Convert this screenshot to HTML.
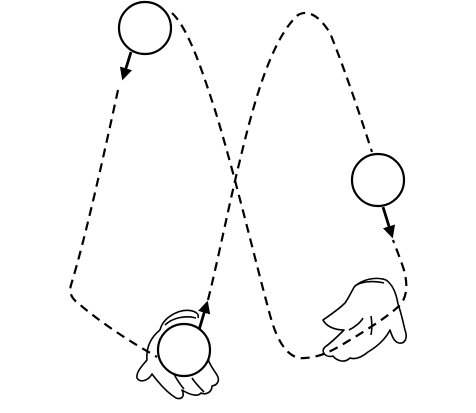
<!DOCTYPE html>
<html><head><meta charset="utf-8"><style>
html,body{margin:0;padding:0;background:#fff;width:476px;height:413px;overflow:hidden}
svg{display:block}
</style></head><body>
<svg width="476" height="413" viewBox="0 0 476 413">
<defs>
<marker id="ah" viewBox="0 0 10 10" refX="8" refY="5" markerWidth="4.5" markerHeight="4.5" orient="auto">
<path d="M0,0 L10,5 L0,10 z" fill="#000"/></marker>
</defs>
<g fill="none" stroke="#000" stroke-width="2.2" stroke-dasharray="9,6">
<path d="M172,13 C190,30 205,80 215,110 C235,175 255,260 270,315 C278,345 290,360 305,358 C320,357 330,352 345,343 C370,328 390,315 400,305 C407,297 408,285 404,270 C400,258 396,248 393,240"/>
<path d="M118,90 C105,150 85,240 71,285 C69,292 71,298 78,303 C95,318 120,335 140,347 C147,351 152,354 157,357"/>
<path d="M208,300 C218,260 230,200 240,160 C252,110 270,40 298,15 C310,8 322,20 330,33 C345,70 360,115 372,152"/>
</g>
<g stroke="#000" stroke-width="2.8" fill="none">
<line x1="131" y1="52" x2="123" y2="78" marker-end="url(#ah)"/>
<line x1="383" y1="207" x2="392" y2="236" marker-end="url(#ah)"/>
<line x1="199" y1="330" x2="207" y2="303" marker-end="url(#ah)"/>
</g>
<g fill="none" stroke="#000" stroke-width="1.6" stroke-linejoin="round">
<path d="M160,330 C150,338 146,348 147,360 C142,366 136,372 137,378 C140,383 148,381 152,374 C158,382 166,392 176,398 C182,400 185,396 182,390 C190,395 198,397 201,393 C205,395 212,393 212,386 C218,385 220,380 217,375 C213,369 208,362 207,355 C210,352 208,346 205,345 M160,330 C162,322 168,316 178,312 C190,308 200,312 198,318 M165,325 C172,318 185,315 196,318 M168,360 C172,372 178,382 184,389 M192,378 C196,384 200,388 204,392"/>
<path d="M398,304 C401,312 403,322 405,330 C408,338 405,344 399,343 C394,342 392,336 390,330 C386,338 378,346 368,352 C362,357 356,360 350,358 C344,364 336,360 333,356 C326,358 320,352 325,347 C332,342 338,336 344,330 C334,330 326,326 323,320 C330,315 338,310 345,303 C350,296 352,290 355,286 C362,280 375,276 386,280 C392,284 396,292 398,304 M355,286 C360,282 372,280 384,283 M371,316 C372,322 372,330 371,335 M349,330 C355,327 361,322 363,318"/>
</g>
<g fill="#fff" stroke="#000" stroke-width="2.2">
<circle cx="145" cy="28" r="26"/>
<circle cx="378" cy="180" r="26"/>
<circle cx="184" cy="350" r="26"/>
</g>
</svg>
</body></html>
